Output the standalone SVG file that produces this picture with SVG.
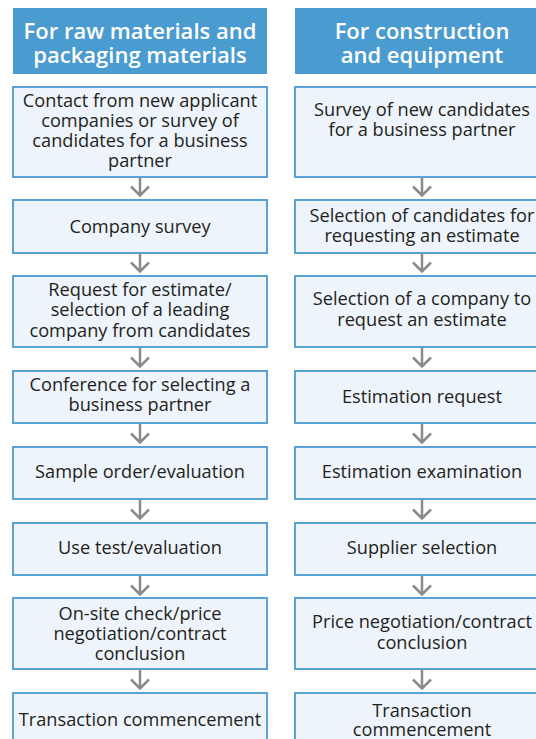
<svg xmlns="http://www.w3.org/2000/svg" width="536" height="739" viewBox="0 0 536 739">
<defs>
<style>
.hdr{fill:#4a9bd0}
.hdrt{fill:#ffffff;font-family:"Open Sans","Noto Sans",sans-serif;font-size:22px;font-weight:600;text-anchor:middle}
.box{fill:#eef4fb;stroke:#5aa2d6;stroke-width:2}
.t{fill:#231f20;font-family:"Open Sans","Noto Sans",sans-serif;font-size:18.2px;text-anchor:middle}
.arr{fill:none;stroke:#8a8a8a;stroke-width:2.5}
</style>
</defs>
<rect width="536" height="739" fill="#ffffff"/>
<g id="header-left"><rect class="hdr" x="13" y="8" width="254" height="66"/>
<text class="hdrt" x="140" y="38.5">For raw materials and<tspan x="140" dy="24">packaging materials</tspan></text></g>
<g id="header-right"><rect class="hdr" x="295" y="8" width="254" height="66"/>
<text class="hdrt" x="422" y="38.5">For construction<tspan x="422" dy="24">and equipment</tspan></text></g>

<g id="connectors">
<path class="arr" d="M140 177V195M131 186.5L140 195.5L149 186.5"/>
<path class="arr" d="M140 253V271M131 262.5L140 271.5L149 262.5"/>
<path class="arr" d="M140 347V366M131 357.5L140 366.5L149 357.5"/>
<path class="arr" d="M140 423V442M131 433.5L140 442.5L149 433.5"/>
<path class="arr" d="M140 499V518M131 509.5L140 518.5L149 509.5"/>
<path class="arr" d="M140 575V594M131 585.5L140 594.5L149 585.5"/>
<path class="arr" d="M140 669V688M131 679.5L140 688.5L149 679.5"/>
<path class="arr" d="M422 177V195M413 186.5L422 195.5L431 186.5"/>
<path class="arr" d="M422 253V271M413 262.5L422 271.5L431 262.5"/>
<path class="arr" d="M422 347V366M413 357.5L422 366.5L431 357.5"/>
<path class="arr" d="M422 423V442M413 433.5L422 442.5L431 433.5"/>
<path class="arr" d="M422 499V518M413 509.5L422 518.5L431 509.5"/>
<path class="arr" d="M422 575V594M413 585.5L422 594.5L431 585.5"/>
<path class="arr" d="M422 669V688M413 679.5L422 688.5L431 679.5"/>
</g>

<g id="l1"><rect class="box" x="13" y="87" width="254" height="90"/>
<text class="t" x="140" y="107">Contact from new applicant<tspan x="140" dy="20">companies or survey of</tspan><tspan x="140" dy="20">candidates for a business</tspan><tspan x="140" dy="20">partner</tspan></text></g>
<g id="l2"><rect class="box" x="13" y="200" width="254" height="53"/>
<text class="t" x="140" y="233">Company survey</text></g>
<g id="l3"><rect class="box" x="13" y="276" width="254" height="71"/>
<text class="t" x="140" y="296">Request for estimate/<tspan x="140" dy="20.3">selection of a leading</tspan><tspan x="140" dy="20.2">company from candidates</tspan></text></g>
<g id="l4"><rect class="box" x="13" y="371" width="254" height="52"/>
<text class="t" x="140" y="390.5">Conference for selecting a<tspan x="140" dy="20">business partner</tspan></text></g>
<g id="l5"><rect class="box" x="13" y="447" width="254" height="52"/>
<text class="t" x="140" y="478">Sample order/evaluation</text></g>
<g id="l6"><rect class="box" x="13" y="523" width="254" height="52"/>
<text class="t" x="140" y="554">Use test/evaluation</text></g>
<g id="l7"><rect class="box" x="13" y="598" width="254" height="71"/>
<text class="t" x="140" y="620">On-site check/price<tspan x="140" dy="20">negotiation/contract</tspan><tspan x="140" dy="19.5">conclusion</tspan></text></g>
<g id="l8"><rect class="box" x="13" y="693" width="254" height="60"/>
<text class="t" x="140" y="725.5">Transaction commencement</text></g>

<g id="r1"><rect class="box" x="295" y="87" width="254" height="90"/>
<text class="t" x="422" y="116">Survey of new candidates<tspan x="422" dy="20">for a business partner</tspan></text></g>
<g id="r2"><rect class="box" x="295" y="200" width="254" height="53"/>
<text class="t" x="422" y="221.5">Selection of candidates for<tspan x="422" dy="20.5">requesting an estimate</tspan></text></g>
<g id="r3"><rect class="box" x="295" y="276" width="254" height="71"/>
<text class="t" x="422" y="305">Selection of a company to<tspan x="422" dy="20.5">request an estimate</tspan></text></g>
<g id="r4"><rect class="box" x="295" y="371" width="254" height="52"/>
<text class="t" x="422" y="403">Estimation request</text></g>
<g id="r5"><rect class="box" x="295" y="447" width="254" height="52"/>
<text class="t" x="422" y="478">Estimation examination</text></g>
<g id="r6"><rect class="box" x="295" y="523" width="254" height="52"/>
<text class="t" x="422" y="554">Supplier selection</text></g>
<g id="r7"><rect class="box" x="295" y="598" width="254" height="71"/>
<text class="t" x="422" y="627.5">Price negotiation/contract<tspan x="422" dy="21.5">conclusion</tspan></text></g>
<g id="r8"><rect class="box" x="295" y="693" width="254" height="60"/>
<text class="t" x="422" y="716.5">Transaction<tspan x="422" dy="19.5">commencement</tspan></text></g>
</svg>
